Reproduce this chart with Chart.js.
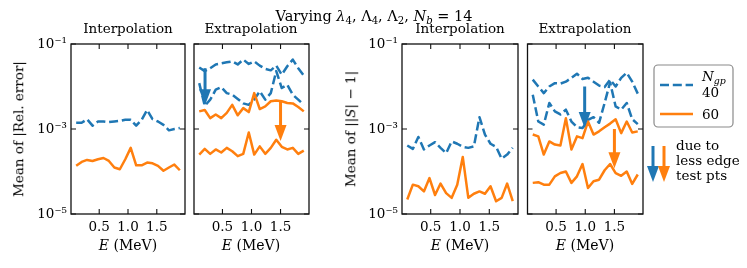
<!DOCTYPE html>
<html>
<head>
<meta charset="utf-8">
<script src="https://cdn.jsdelivr.net/npm/chart.js@4.4.1/dist/chart.umd.min.js"></script>
<style>
  body { margin: 0; background: #fff; }
  #fig { position: relative; width: 747px; height: 268px; overflow: hidden; background: #fff;
         font-family: "DejaVu Serif", serif; font-size: 13.5px; color: #000; }
  #fig canvas { position: absolute; top: 0; }
  .t { position: absolute; white-space: nowrap; line-height: 1; transform: translate(-50%, -50%); }
  .l { position: absolute; white-space: nowrap; line-height: 1; transform: translate(0, -50%); }
  .rot { transform: translate(-50%, -50%) rotate(-90deg); }
  sub { font-size: 70%; vertical-align: -0.3em; line-height: 0; }
</style>
</head>
<body>
<div id="fig">
  <canvas id="c1" width="190" height="268" style="left:0px"></canvas>
  <canvas id="c2" width="125" height="268" style="left:190px"></canvas>
  <canvas id="c3" width="190" height="268" style="left:330px"></canvas>
  <canvas id="c4" width="227" height="268" style="left:520px"></canvas>

  <div class="t" style="left:374px;top:16px;font-size:14.5px">Varying <i>λ</i><sub>4</sub>, Λ<sub>4</sub>, Λ<sub>2</sub>, <i>N<sub>b</sub></i> = 14</div>
  <div class="t" style="left:128px;top:29px">Interpolation</div>
  <div class="t" style="left:251px;top:29px">Extrapolation</div>
  <div class="t" style="left:460px;top:29px">Interpolation</div>
  <div class="t" style="left:585px;top:29px">Extrapolation</div>
  <div class="t" style="left:128px;top:245px;font-size:14px"><i>E</i> (MeV)</div>
  <div class="t" style="left:251px;top:245px;font-size:14px"><i>E</i> (MeV)</div>
  <div class="t" style="left:460px;top:245px;font-size:14px"><i>E</i> (MeV)</div>
  <div class="t" style="left:585px;top:245px;font-size:14px"><i>E</i> (MeV)</div>
  <div class="t rot" style="left:19px;top:129px">Mean of |Rel. error|</div>
  <div class="t rot" style="left:351px;top:129px">Mean of ||<i>S</i>| − 1|</div>

  <div class="l" style="left:702px;top:77px"><i>N<sub>gp</sub></i></div>
  <div class="l" style="left:702px;top:93px">40</div>
  <div class="l" style="left:702px;top:115px">60</div>
  <div class="l" style="left:676px;top:146px">due to</div>
  <div class="l" style="left:676px;top:161px">less edge</div>
  <div class="l" style="left:676px;top:176px">test pts</div>
</div>
<script>
// energies (MeV)
const energies = [0.1, 0.195, 0.289, 0.384, 0.479, 0.574, 0.668, 0.763, 0.858, 0.953,
                  1.047, 1.142, 1.237, 1.332, 1.426, 1.521, 1.616, 1.711, 1.805, 1.9];
const xTicks = [0.5, 1.0, 1.5];
const xTickLabels = ['0.5', '1.0', '1.5'];
const yTicks = [1e-5, 1e-3, 1e-1];
const yTickLabels = ['10⁻⁵', '10⁻³', '10⁻¹'];

// Mean of |Rel. error|
const relInterp40 = [1.4e-3, 1.4e-3, 1.7e-3, 1.2e-3, 1.5e-3, 1.5e-3, 1.45e-3, 1.5e-3, 1.55e-3, 1.65e-3,
                     1.65e-3, 1.2e-3, 1.65e-3, 2.8e-3, 1.7e-3, 1.5e-3, 1.25e-3, 0.93e-3, 1.0e-3, 1.05e-3];
const relInterp60 = [1.36e-4, 1.68e-4, 1.87e-4, 1.77e-4, 1.94e-4, 2.08e-4, 1.77e-4, 1.24e-4, 1.13e-4, 1.94e-4,
                     3.6e-4, 1.4e-4, 1.4e-4, 1.62e-4, 1.56e-4, 1.36e-4, 1.04e-4, 1.24e-4, 1.46e-4, 1.07e-4];
const relExtrap40a = [2.8e-2, 2.3e-2, 2.7e-2, 3.3e-2, 3.5e-2, 3.7e-2, 3.9e-2, 3.3e-2, 4.3e-2, 3.4e-2,
                      3.9e-2, 3.1e-2, 2.6e-2, 2.4e-2, 3.1e-2, 1.9e-2, 3.0e-2, 4.3e-2, 2.7e-2, 1.8e-2];
const relExtrap40b = [1.2e-2, 3.5e-3, 4.9e-3, 8.4e-3, 9.7e-3, 7.0e-3, 6.4e-3, 5.1e-3, 4.0e-3, 3.7e-3,
                      4.9e-3, 7.7e-3, 4.9e-3, 7.0e-3, 2.3e-2, 9.2e-3, 1.1e-2, 6.4e-3, 4.9e-3, 3.7e-3];
const relExtrap60a = [2.6e-3, 2.8e-3, 1.8e-3, 2.2e-3, 1.8e-3, 2.4e-3, 3.7e-3, 2.1e-3, 3.1e-3, 2.5e-3,
                      7.0e-3, 2.95e-3, 3.4e-3, 4.5e-3, 4.7e-3, 4.5e-3, 4.1e-3, 4.0e-3, 3.3e-3, 2.6e-3];
const relExtrap60b = [2.5e-4, 3.4e-4, 2.6e-4, 3.3e-4, 2.8e-4, 3.6e-4, 3.0e-4, 2.3e-4, 2.6e-4, 8.3e-4,
                      2.5e-4, 3.9e-4, 2.6e-4, 3.6e-4, 5.6e-4, 3.8e-4, 3.3e-4, 3.6e-4, 2.6e-4, 3.1e-4];

// Mean of ||S| - 1|
const sInterp40 = [4.1e-4, 3.4e-4, 6.5e-4, 3.3e-4, 4.1e-4, 4.9e-4, 3.6e-4, 2.7e-4, 5.1e-4, 4.5e-4,
                   3.8e-4, 3.6e-4, 3.9e-4, 1.9e-3, 7.4e-4, 4.5e-4, 3.8e-4, 2.0e-4, 2.5e-4, 3.6e-4];
const sInterp60 = [2.2e-5, 4.9e-5, 4.5e-5, 3.4e-5, 7.0e-5, 2.8e-5, 5.2e-5, 3.1e-5, 2.4e-5, 4.9e-5,
                   2.2e-4, 2.4e-5, 3.0e-5, 3.4e-5, 3.0e-5, 4.5e-5, 2.0e-5, 2.4e-5, 5.2e-5, 2.0e-5];
const sExtrap40a = [1.45e-2, 1.0e-2, 7.0e-3, 1.0e-2, 1.2e-2, 1.17e-2, 1.3e-2, 1.6e-2, 2.0e-2, 1.5e-2,
                    1.6e-2, 1.3e-2, 1.05e-2, 9.7e-3, 1.45e-2, 1.0e-2, 1.6e-2, 2.1e-2, 1.3e-2, 6.8e-3];
const sExtrap40b = [6.4e-3, 1.5e-3, 1.27e-3, 4.1e-3, 2.6e-3, 2.2e-3, 2.85e-3, 1.5e-3, 1.1e-3, 1.05e-3,
                    1.65e-3, 1.9e-3, 1.4e-3, 4.1e-3, 1.25e-2, 3.4e-3, 2.85e-3, 4.1e-3, 1.7e-3, 1.3e-3];
const sExtrap60a = [7.4e-4, 6.7e-4, 2.5e-4, 5.1e-4, 4.3e-4, 4.1e-4, 1.8e-3, 3.3e-4, 6.7e-4, 6.1e-4,
                    1.5e-3, 7.4e-4, 8.8e-4, 1.1e-3, 1.34e-3, 1.7e-3, 8.0e-4, 1.5e-3, 8.3e-4, 8.8e-4];
const sExtrap60b = [5.4e-5, 5.6e-5, 4.9e-5, 4.9e-5, 7.7e-5, 9.2e-5, 1.0e-4, 5.4e-5, 7.7e-5, 1.5e-4,
                    4.1e-5, 5.9e-5, 6.4e-5, 1.07e-4, 1.5e-4, 9.2e-5, 7.9e-5, 1.0e-4, 5.1e-5, 8.5e-5];

// arrows: [E, from, to]  (first N_gp=40, second N_gp=60)
const arrowsRel = [[0.2, 2.7e-2, 3.6e-3], [1.5, 4.4e-3, 5.2e-4]];
const arrowsS = [[0.99, 1.0e-2, 1.05e-3], [1.5, 1.0e-3, 1.2e-4]];

const BLUE = '#1f77b4', ORANGE = '#ff7f0e';
const DASH = [9, 3.8];
const LW = 2.5;
const tickFont = { family: 'DejaVu Serif', size: 13.5 };

function line(values, color) {
  return {
    data: energies.map((e, i) => ({ x: e, y: values[i] })),
    borderColor: color,
    borderWidth: LW,
    borderDash: color === BLUE ? DASH : [],
    borderJoinStyle: 'round',
    borderCapStyle: 'butt',
    pointRadius: 0,
    fill: false
  };
}

function drawArrow(ctx, x, y0, y1, color) {
  const hl = 16, hw = 6;
  ctx.setLineDash([]);
  ctx.strokeStyle = color;
  ctx.fillStyle = color;
  ctx.lineWidth = 3;
  ctx.beginPath();
  ctx.moveTo(x, y0);
  ctx.lineTo(x, y1 - hl + 1);
  ctx.stroke();
  ctx.beginPath();
  ctx.moveTo(x - hw, y1 - hl);
  ctx.lineTo(x + hw, y1 - hl);
  ctx.lineTo(x, y1);
  ctx.closePath();
  ctx.fill();
}

function drawLegend(ctx, ox) {
  ctx.setLineDash([]);
  ctx.fillStyle = 'rgba(255,255,255,0.9)';
  ctx.strokeStyle = '#8a8a8a';
  ctx.lineWidth = 1.2;
  ctx.beginPath();
  ctx.roundRect(654 - ox, 65, 79, 62, 4);
  ctx.fill();
  ctx.stroke();
  ctx.lineWidth = LW;
  ctx.strokeStyle = BLUE;
  ctx.setLineDash(DASH);
  ctx.beginPath(); ctx.moveTo(660 - ox, 85); ctx.lineTo(693 - ox, 85); ctx.stroke();
  ctx.setLineDash([]);
  ctx.strokeStyle = ORANGE;
  ctx.beginPath(); ctx.moveTo(660 - ox, 114); ctx.lineTo(693 - ox, 114); ctx.stroke();
  drawArrow(ctx, 653 - ox, 146, 182, BLUE);
  drawArrow(ctx, 664 - ox, 146, 182, ORANGE);
}

Chart.register({
  id: 'frame',
  afterDraw(chart, args, opts) {
    const { ctx, chartArea: a } = chart;
    const x = chart.scales.x, y = chart.scales.y;
    ctx.save();
    (opts.arrows || []).forEach((ar, i) => {
      drawArrow(ctx, x.getPixelForValue(ar[0]), y.getPixelForValue(ar[1]), y.getPixelForValue(ar[2]), i === 0 ? BLUE : ORANGE);
    });
    ctx.setLineDash([]);
    ctx.strokeStyle = '#111';
    ctx.lineWidth = 1.3;
    ctx.strokeRect(a.left, a.top, a.right - a.left, a.bottom - a.top);
    ctx.lineWidth = 1.1;
    ctx.beginPath();
    xTicks.forEach(v => {
      const px = x.getPixelForValue(v);
      ctx.moveTo(px, a.bottom); ctx.lineTo(px, a.bottom - 5);
      ctx.moveTo(px, a.top); ctx.lineTo(px, a.top + 5);
    });
    yTicks.forEach(v => {
      const py = y.getPixelForValue(v);
      ctx.moveTo(a.left, py); ctx.lineTo(a.left + 5, py);
      ctx.moveTo(a.right, py); ctx.lineTo(a.right - 5, py);
    });
    ctx.stroke();
    if (opts.legend) drawLegend(ctx, opts.legend);
    ctx.restore();
  }
});

function makePanel(id, datasets, cfg) {
  return new Chart(document.getElementById(id), {
    type: 'line',
    data: { datasets },
    options: {
      responsive: false,
      animation: false,
      devicePixelRatio: 1,
      layout: { padding: { left: cfg.padLeft, right: cfg.padRight, top: 44, bottom: 24 } },
      plugins: {
        legend: { display: false },
        tooltip: { enabled: false },
        frame: { arrows: cfg.arrows, legend: cfg.legend }
      },
      scales: {
        x: {
          type: 'linear', min: 0.01, max: 1.99,
          grid: { display: false, drawTicks: false },
          border: { display: false },
          afterBuildTicks: s => { s.ticks = xTicks.map(v => ({ value: v })); },
          afterFit: s => { s.height = 30; },
          ticks: {
            autoSkip: false, maxRotation: 0, padding: 5, color: '#000', font: tickFont,
            callback: (v, i) => xTickLabels[i]
          }
        },
        y: {
          type: 'logarithmic', min: 1e-5, max: 1e-1,
          display: cfg.yWidth > 0,
          grid: { display: false, drawTicks: false },
          border: { display: false },
          afterBuildTicks: s => { s.ticks = yTicks.map(v => ({ value: v })); },
          afterFit: s => { s.width = cfg.yWidth; },
          ticks: {
            autoSkip: false, padding: 4, color: '#000', font: tickFont,
            callback: (v, i) => yTickLabels[i]
          }
        }
      }
    }
  });
}

makePanel('c1', [line(relInterp60, ORANGE), line(relInterp40, BLUE)],
  { padLeft: 0, padRight: 5, yWidth: 71 });
makePanel('c2', [line(relExtrap60a, ORANGE), line(relExtrap60b, ORANGE), line(relExtrap40a, BLUE), line(relExtrap40b, BLUE)],
  { padLeft: 4, padRight: 6, yWidth: 0, arrows: arrowsRel });
makePanel('c3', [line(sInterp60, ORANGE), line(sInterp40, BLUE)],
  { padLeft: 0, padRight: 2, yWidth: 72 });
makePanel('c4', [line(sExtrap60a, ORANGE), line(sExtrap60b, ORANGE), line(sExtrap40a, BLUE), line(sExtrap40b, BLUE)],
  { padLeft: 7.5, padRight: 104, yWidth: 0, arrows: arrowsS, legend: 520 });
</script>
</body>
</html>
